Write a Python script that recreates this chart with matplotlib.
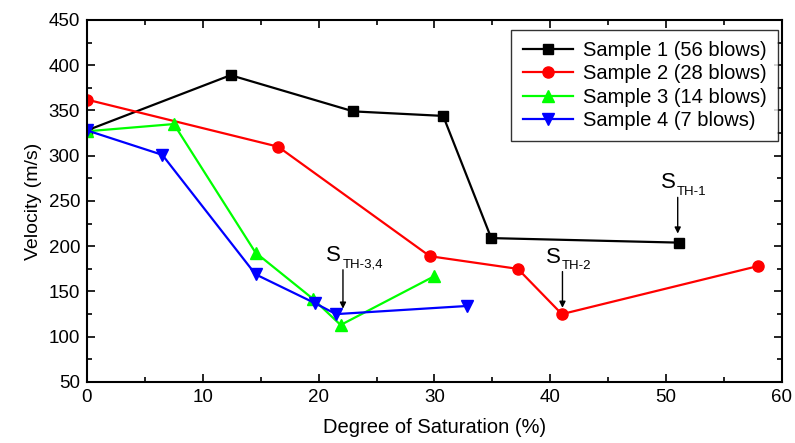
#!/usr/bin/env python3
"""plot.py — velocity vs degree of saturation."""

import matplotlib
matplotlib.use("Agg")
import matplotlib.pyplot as plt
from matplotlib.ticker import MultipleLocator

plt.rcParams["font.family"] = ["Liberation Sans", "DejaVu Sans"]

labels = ["Sample 1 (56 blows)", "Sample 2 (28 blows)",
          "Sample 3 (14 blows)", "Sample 4 (7 blows)"]

s1_x = [0, 12.4, 23.0, 30.75, 34.9, 51.1]
s1_y = [328, 389, 349, 344, 209, 204]

s2_x = [0, 16.5, 29.6, 37.2, 41.0, 57.9]
s2_y = [362, 310, 189, 175, 125, 178]

s3_x = [0, 7.5, 14.55, 19.5, 21.9, 30.0]
s3_y = [327, 335, 193, 142, 113, 167]

s4_x = [0, 6.5, 14.55, 19.7, 21.5, 32.8]
s4_y = [328, 301, 169, 137, 125, 134]

# threshold annotations: (x, arrow top, arrow tip, subscript)
thresholds = [(22.1, 174, 131, "TH-3,4"),
              (51.0, 254, 214, "TH-1"),
              (41.05, 172, 132, "TH-2")]


def main() -> None:
    fig = plt.figure(figsize=(7.95, 4.43), dpi=100)
    ax = fig.add_axes([0.1094, 0.1377, 0.8742, 0.8172])

    ax.plot(s1_x, s1_y, color="black", marker="s", ms=7, lw=1.6, label=labels[0])
    ax.plot(s2_x, s2_y, color="red", marker="o", ms=8, lw=1.6, label=labels[1])
    ax.plot(s3_x, s3_y, color="#00ff00", marker="^", ms=9, lw=1.6, label=labels[2])
    ax.plot(s4_x, s4_y, color="blue", marker="v", ms=9, lw=1.6, label=labels[3])

    for x, top, tip, sub in thresholds:
        ax.annotate("", xy=(x, tip), xytext=(x, top),
                    arrowprops=dict(arrowstyle="-|>", color="black", lw=1,
                                    mutation_scale=9, shrinkA=0, shrinkB=0))
        ax.text(x - 0.15, top + 10, "S", fontsize=16, ha="right", va="baseline")
        ax.text(x - 0.05, top + 3, sub, fontsize=9.5, ha="left", va="baseline")

    ax.set_xlim(0, 60)
    ax.set_ylim(50, 450)
    ax.xaxis.set_major_locator(MultipleLocator(10))
    ax.xaxis.set_minor_locator(MultipleLocator(5))
    ax.yaxis.set_major_locator(MultipleLocator(50))
    ax.yaxis.set_minor_locator(MultipleLocator(25))
    ax.tick_params(which="both", direction="in", top=True, right=True,
                   labelsize=13.5, width=1.2)
    ax.tick_params(which="major", length=6, pad=5)
    ax.tick_params(which="minor", length=3.5)
    for sp in ax.spines.values():
        sp.set_linewidth(1.5)

    ax.set_xlabel("Degree of Saturation (%)", fontsize=14.5, labelpad=9)
    ax.set_ylabel("Velocity (m/s)", fontsize=14, labelpad=5)

    leg = ax.legend(loc="upper right", fontsize=14.5, frameon=True, fancybox=False,
                    edgecolor="black", borderpad=0.55, labelspacing=0.22,
                    handlelength=2.5, handletextpad=0.5, borderaxespad=0,
                    bbox_to_anchor=(0.994, 0.973))
    leg.get_frame().set_linewidth(1.0)

    fig.savefig("out.png", dpi=100)


if __name__ == "__main__":
    main()
